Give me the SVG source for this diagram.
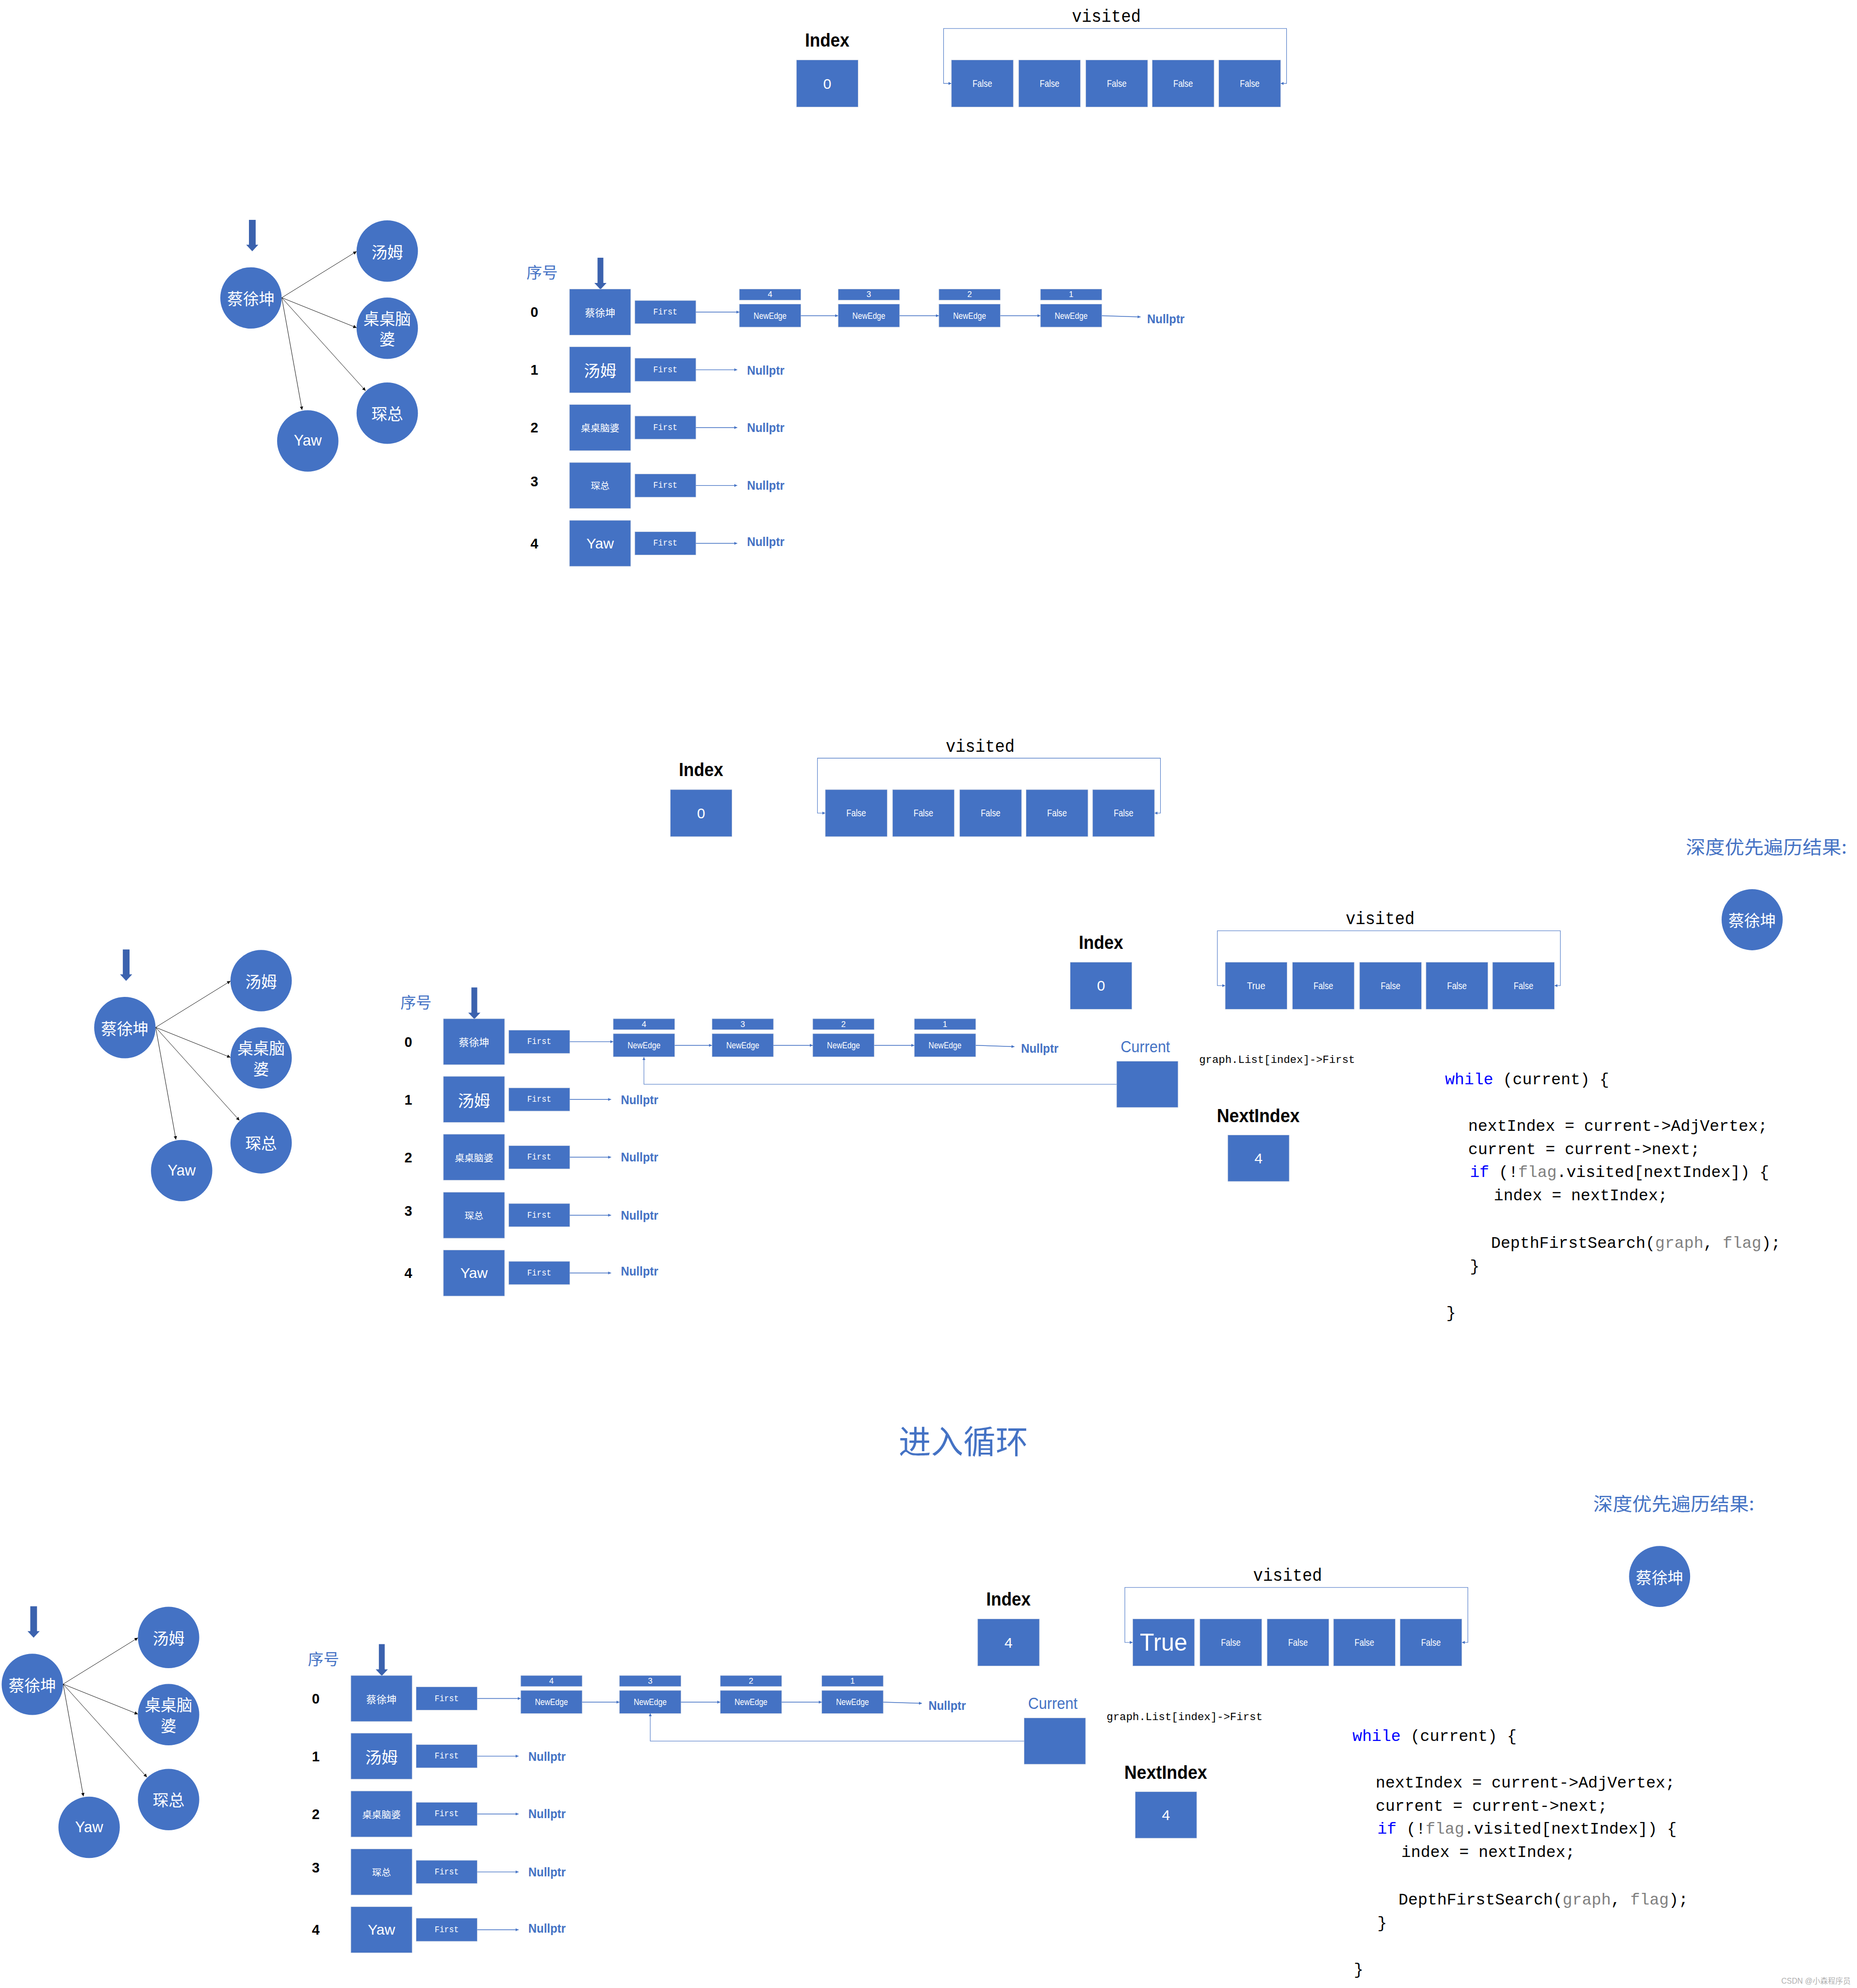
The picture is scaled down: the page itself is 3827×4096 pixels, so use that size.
<svg xmlns="http://www.w3.org/2000/svg" width="3827" height="4096" viewBox="0 0 3827 4096">
<style>
.box{fill:#4472C4;stroke:#d3d8e2;stroke-width:0.3}
.nd{fill:#4472C4}
.ba{fill:#3B62AE}
.w{fill:#fff;text-anchor:middle;dominant-baseline:central;font-family:"Liberation Sans","Noto Sans CJK SC",sans-serif}
.c{font-family:"Noto Sans CJK SC",sans-serif}
.m{font-family:"Liberation Mono","Noto Sans CJK SC",monospace}
.h{font-family:"Liberation Sans",sans-serif;font-weight:bold;fill:#000}
.bl{fill:#4472C4}
.np{font-family:"Liberation Sans",sans-serif;font-weight:bold;fill:#4472C4;font-size:10px}
.bc{stroke:#4472C4;stroke-width:0.55;fill:none}
.bk{stroke:#4472C4;stroke-width:0.4;fill:none}
.gc{stroke:#000;stroke-width:0.35;fill:none}
.code{font-family:"Liberation Mono",monospace;font-size:12.7px;fill:#000}
.kw{fill:#0000FF}
.gr{fill:#808080}
</style>
<defs>
<marker id="ab" viewBox="0 0 10 10" refX="10" refY="5" markerWidth="2.8" markerHeight="2.3" markerUnits="userSpaceOnUse" orient="auto-start-reverse"><path d="M0,0L10,5L0,10z" fill="#4472C4"/></marker>
<marker id="ak" viewBox="0 0 10 10" refX="10" refY="5" markerWidth="3.4" markerHeight="2.6" markerUnits="userSpaceOnUse" orient="auto"><path d="M0,0L10,5L0,10z" fill="#000"/></marker>
</defs>
<rect width="3827" height="4096" fill="#fff"/>
<g transform="scale(2.61226)">

<!-- ================= PANEL A ================= -->
<g id="a-top">
<text class="h" x="652.6" y="36.7" font-size="14.5" text-anchor="middle" textLength="35" lengthAdjust="spacingAndGlyphs">Index</text>
<g id="a-index"><rect class="box" x="628.3" y="47.3" width="48.7" height="37.1"/><text class="w" x="652.65" y="65.85" font-size="11.5">0</text></g>
<text class="m" x="872.8" y="17.3" font-size="14" text-anchor="middle" textLength="54.4" lengthAdjust="spacingAndGlyphs">visited</text>
<path class="bk" d="M1010.3 65.8H1015V22.5H744.4V65.8H750.6" marker-start="url(#ab)" marker-end="url(#ab)"/>
<g id="a-vis0"><rect class="box" x="750.6" y="47.3" width="48.8" height="37.1"/><text class="w" x="775" y="65.85" font-size="7.5" textLength="15.5" lengthAdjust="spacingAndGlyphs">False</text></g>
<g id="a-vis1"><rect class="box" x="803.6" y="47.3" width="48.8" height="37.1"/><text class="w" x="828" y="65.85" font-size="7.5" textLength="15.5" lengthAdjust="spacingAndGlyphs">False</text></g>
<g id="a-vis2"><rect class="box" x="856.6" y="47.3" width="48.8" height="37.1"/><text class="w" x="881" y="65.85" font-size="7.5" textLength="15.5" lengthAdjust="spacingAndGlyphs">False</text></g>
<g id="a-vis3"><rect class="box" x="909" y="47.3" width="48.8" height="37.1"/><text class="w" x="933.4" y="65.85" font-size="7.5" textLength="15.5" lengthAdjust="spacingAndGlyphs">False</text></g>
<g id="a-vis4"><rect class="box" x="961.5" y="47.3" width="48.8" height="37.1"/><text class="w" x="985.9" y="65.85" font-size="7.5" textLength="15.5" lengthAdjust="spacingAndGlyphs">False</text></g>
</g>

<g id="a-main">
<g id="a-graph">
<polygon class="ba" points="196.4,173.4 201.7,173.4 201.7,193 203.8,193 199,198.2 194.2,193 196.4,193"/>
<g id="a-graph-edges" class="gc">
<path d="M222.3 234.8L281.3 198.3" marker-end="url(#ak)"/>
<path d="M222.3 234.8L281.3 258.5" marker-end="url(#ak)"/>
<path d="M222.3 234.8L288.4 308.2" marker-end="url(#ak)"/>
<path d="M222.3 234.8L238.3 323.3" marker-end="url(#ak)"/>
</g>
<g id="a-n0"><circle class="nd" cx="198" cy="235" r="24.2"/><text class="w c" x="198" y="235" font-size="12.5">蔡徐坤</text></g>
<g id="a-n1"><circle class="nd" cx="305.5" cy="198" r="24.2"/><text class="w c" x="305.5" y="198" font-size="12.5">汤姆</text></g>
<g id="a-n2"><circle class="nd" cx="305.5" cy="258.9" r="24.2"/><text class="w c" font-size="12.5"><tspan x="305.5" y="250.2">桌桌脑</tspan><tspan x="305.5" y="266.5">婆</tspan></text></g>
<g id="a-n3"><circle class="nd" cx="305.5" cy="325.9" r="24.2"/><text class="w c" x="305.5" y="325.4" font-size="12.5">琛总</text></g>
<g id="a-n4"><circle class="nd" cx="242.8" cy="347.8" r="24.2"/><text class="w" x="242.8" y="347.5" font-size="11.8">Yaw</text></g>
</g>
<g id="a-adj">
<text class="bl c" x="415.4" y="219.5" font-size="12.3">序号</text>
<polygon class="ba" points="471.4,203.3 476,203.3 476,223.2 478.5,223.2 473.7,228.3 468.9,223.2 471.4,223.2"/>
<g class="h" font-size="11" text-anchor="middle">
<text x="421.6" y="250.1">0</text><text x="421.6" y="295.6">1</text><text x="421.6" y="341.2">2</text><text x="421.6" y="383.5">3</text><text x="421.6" y="432.5">4</text>
</g>
<g id="a-v0"><rect class="box" x="449.3" y="228" width="48.3" height="36.3"/><text class="w c" x="473.45" y="246.15" font-size="8">蔡徐坤</text></g>
<g id="a-v1"><rect class="box" x="449.3" y="273.5" width="48.3" height="36.3"/><text class="w c" x="473.45" y="291.65" font-size="12.8">汤姆</text></g>
<g id="a-v2"><rect class="box" x="449.3" y="319.1" width="48.3" height="36.3"/><text class="w c" x="473.45" y="337.25" font-size="7.6">桌桌脑婆</text></g>
<g id="a-v3"><rect class="box" x="449.3" y="364.8" width="48.3" height="36.3"/><text class="w c" x="473.45" y="382.95" font-size="7.4">琛总</text></g>
<g id="a-v4"><rect class="box" x="449.3" y="410.4" width="48.3" height="36.3"/><text class="w" x="473.45" y="428.55" font-size="11.5" textLength="21.6" lengthAdjust="spacingAndGlyphs">Yaw</text></g>
<g id="a-f0"><rect class="box" x="500.8" y="237" width="48.2" height="18.3"/><text class="w m" x="524.9" y="246.15" font-size="7" textLength="19" lengthAdjust="spacingAndGlyphs">First</text></g>
<g id="a-f1"><rect class="box" x="500.8" y="282.5" width="48.2" height="18.3"/><text class="w m" x="524.9" y="291.65" font-size="7" textLength="19" lengthAdjust="spacingAndGlyphs">First</text></g>
<g id="a-f2"><rect class="box" x="500.8" y="328.1" width="48.2" height="18.3"/><text class="w m" x="524.9" y="337.25" font-size="7" textLength="19" lengthAdjust="spacingAndGlyphs">First</text></g>
<g id="a-f3"><rect class="box" x="500.8" y="373.8" width="48.2" height="18.3"/><text class="w m" x="524.9" y="382.95" font-size="7" textLength="19" lengthAdjust="spacingAndGlyphs">First</text></g>
<g id="a-f4"><rect class="box" x="500.8" y="419.4" width="48.2" height="18.3"/><text class="w m" x="524.9" y="428.55" font-size="7" textLength="19" lengthAdjust="spacingAndGlyphs">First</text></g>
<g id="a-e4"><rect class="box" x="583.3" y="228" width="48.5" height="8.7"/><text class="w" x="607.55" y="232.35" font-size="6.5">4</text><rect class="box" x="583.3" y="239.8" width="48.5" height="18.2"/><text class="w" x="607.55" y="248.9" font-size="7.2" textLength="26" lengthAdjust="spacingAndGlyphs">NewEdge</text></g>
<g id="a-e3"><rect class="box" x="661.2" y="228" width="48.5" height="8.7"/><text class="w" x="685.45" y="232.35" font-size="6.5">3</text><rect class="box" x="661.2" y="239.8" width="48.5" height="18.2"/><text class="w" x="685.45" y="248.9" font-size="7.2" textLength="26" lengthAdjust="spacingAndGlyphs">NewEdge</text></g>
<g id="a-e2"><rect class="box" x="740.7" y="228" width="48.5" height="8.7"/><text class="w" x="764.95" y="232.35" font-size="6.5">2</text><rect class="box" x="740.7" y="239.8" width="48.5" height="18.2"/><text class="w" x="764.95" y="248.9" font-size="7.2" textLength="26" lengthAdjust="spacingAndGlyphs">NewEdge</text></g>
<g id="a-e1"><rect class="box" x="820.8" y="228" width="48.5" height="8.7"/><text class="w" x="845.05" y="232.35" font-size="6.5">1</text><rect class="box" x="820.8" y="239.8" width="48.5" height="18.2"/><text class="w" x="845.05" y="248.9" font-size="7.2" textLength="26" lengthAdjust="spacingAndGlyphs">NewEdge</text></g>
<g id="a-null">
<text class="np" x="905" y="255" textLength="29.5" lengthAdjust="spacingAndGlyphs">Nullptr</text>
<text class="np" x="589.3" y="295.4" textLength="29.5" lengthAdjust="spacingAndGlyphs">Nullptr</text>
<text class="np" x="589.3" y="340.7" textLength="29.5" lengthAdjust="spacingAndGlyphs">Nullptr</text>
<text class="np" x="589.3" y="386.4" textLength="29.5" lengthAdjust="spacingAndGlyphs">Nullptr</text>
<text class="np" x="589.3" y="430.7" textLength="29.5" lengthAdjust="spacingAndGlyphs">Nullptr</text>
</g>
<g id="a-adj-edges" class="bc">
<path d="M549 246.15H583.3" marker-end="url(#ab)"/>
<path d="M549 291.65H581.6" marker-end="url(#ab)"/>
<path d="M549 337.25H581.6" marker-end="url(#ab)"/>
<path d="M549 382.95H581.6" marker-end="url(#ab)"/>
<path d="M549 428.55H581.6" marker-end="url(#ab)"/>
<path d="M631.8 249H661.2" marker-end="url(#ab)"/>
<path d="M709.7 249H740.7" marker-end="url(#ab)"/>
<path d="M789.2 249H820.8" marker-end="url(#ab)"/>
<path d="M869.3 249L899.8 250" marker-end="url(#ab)"/>
</g>
</g>
</g>

<!-- ================= PANEL B ================= -->
<g id="b-top" transform="translate(-99.5,575.5)">
<text class="h" x="652.6" y="36.7" font-size="14.5" text-anchor="middle" textLength="35" lengthAdjust="spacingAndGlyphs">Index</text>
<g id="b-index"><rect class="box" x="628.3" y="47.3" width="48.7" height="37.1"/><text class="w" x="652.65" y="65.85" font-size="11.5">0</text></g>
<text class="m" x="872.8" y="17.3" font-size="14" text-anchor="middle" textLength="54.4" lengthAdjust="spacingAndGlyphs">visited</text>
<path class="bk" d="M1010.3 65.8H1015V22.5H744.4V65.8H750.6" marker-start="url(#ab)" marker-end="url(#ab)"/>
<g id="b-vis0"><rect class="box" x="750.6" y="47.3" width="48.8" height="37.1"/><text class="w" x="775" y="65.85" font-size="7.5" textLength="15.5" lengthAdjust="spacingAndGlyphs">False</text></g>
<g id="b-vis1"><rect class="box" x="803.6" y="47.3" width="48.8" height="37.1"/><text class="w" x="828" y="65.85" font-size="7.5" textLength="15.5" lengthAdjust="spacingAndGlyphs">False</text></g>
<g id="b-vis2"><rect class="box" x="856.6" y="47.3" width="48.8" height="37.1"/><text class="w" x="881" y="65.85" font-size="7.5" textLength="15.5" lengthAdjust="spacingAndGlyphs">False</text></g>
<g id="b-vis3"><rect class="box" x="909" y="47.3" width="48.8" height="37.1"/><text class="w" x="933.4" y="65.85" font-size="7.5" textLength="15.5" lengthAdjust="spacingAndGlyphs">False</text></g>
<g id="b-vis4"><rect class="box" x="961.5" y="47.3" width="48.8" height="37.1"/><text class="w" x="985.9" y="65.85" font-size="7.5" textLength="15.5" lengthAdjust="spacingAndGlyphs">False</text></g>
</g>

<g id="b-main" transform="translate(-99.5,575.5)">
<g id="b-graph">
<polygon class="ba" points="196.4,173.4 201.7,173.4 201.7,193 203.8,193 199,198.2 194.2,193 196.4,193"/>
<g id="b-graph-edges" class="gc">
<path d="M222.3 234.8L281.3 198.3" marker-end="url(#ak)"/>
<path d="M222.3 234.8L281.3 258.5" marker-end="url(#ak)"/>
<path d="M222.3 234.8L288.4 308.2" marker-end="url(#ak)"/>
<path d="M222.3 234.8L238.3 323.3" marker-end="url(#ak)"/>
</g>
<g id="b-n0"><circle class="nd" cx="198" cy="235" r="24.2"/><text class="w c" x="198" y="235" font-size="12.5">蔡徐坤</text></g>
<g id="b-n1"><circle class="nd" cx="305.5" cy="198" r="24.2"/><text class="w c" x="305.5" y="198" font-size="12.5">汤姆</text></g>
<g id="b-n2"><circle class="nd" cx="305.5" cy="258.9" r="24.2"/><text class="w c" font-size="12.5"><tspan x="305.5" y="250.2">桌桌脑</tspan><tspan x="305.5" y="266.5">婆</tspan></text></g>
<g id="b-n3"><circle class="nd" cx="305.5" cy="325.9" r="24.2"/><text class="w c" x="305.5" y="325.4" font-size="12.5">琛总</text></g>
<g id="b-n4"><circle class="nd" cx="242.8" cy="347.8" r="24.2"/><text class="w" x="242.8" y="347.5" font-size="11.8">Yaw</text></g>
</g>
<g id="b-adj">
<text class="bl c" x="415.4" y="219.5" font-size="12.3">序号</text>
<polygon class="ba" points="471.4,203.3 476,203.3 476,223.2 478.5,223.2 473.7,228.3 468.9,223.2 471.4,223.2"/>
<g class="h" font-size="11" text-anchor="middle">
<text x="421.6" y="250.1">0</text><text x="421.6" y="295.6">1</text><text x="421.6" y="341.2">2</text><text x="421.6" y="383.5">3</text><text x="421.6" y="432.5">4</text>
</g>
<g id="b-v0"><rect class="box" x="449.3" y="228" width="48.3" height="36.3"/><text class="w c" x="473.45" y="246.15" font-size="8">蔡徐坤</text></g>
<g id="b-v1"><rect class="box" x="449.3" y="273.5" width="48.3" height="36.3"/><text class="w c" x="473.45" y="291.65" font-size="12.8">汤姆</text></g>
<g id="b-v2"><rect class="box" x="449.3" y="319.1" width="48.3" height="36.3"/><text class="w c" x="473.45" y="337.25" font-size="7.6">桌桌脑婆</text></g>
<g id="b-v3"><rect class="box" x="449.3" y="364.8" width="48.3" height="36.3"/><text class="w c" x="473.45" y="382.95" font-size="7.4">琛总</text></g>
<g id="b-v4"><rect class="box" x="449.3" y="410.4" width="48.3" height="36.3"/><text class="w" x="473.45" y="428.55" font-size="11.5" textLength="21.6" lengthAdjust="spacingAndGlyphs">Yaw</text></g>
<g id="b-f0"><rect class="box" x="500.8" y="237" width="48.2" height="18.3"/><text class="w m" x="524.9" y="246.15" font-size="7" textLength="19" lengthAdjust="spacingAndGlyphs">First</text></g>
<g id="b-f1"><rect class="box" x="500.8" y="282.5" width="48.2" height="18.3"/><text class="w m" x="524.9" y="291.65" font-size="7" textLength="19" lengthAdjust="spacingAndGlyphs">First</text></g>
<g id="b-f2"><rect class="box" x="500.8" y="328.1" width="48.2" height="18.3"/><text class="w m" x="524.9" y="337.25" font-size="7" textLength="19" lengthAdjust="spacingAndGlyphs">First</text></g>
<g id="b-f3"><rect class="box" x="500.8" y="373.8" width="48.2" height="18.3"/><text class="w m" x="524.9" y="382.95" font-size="7" textLength="19" lengthAdjust="spacingAndGlyphs">First</text></g>
<g id="b-f4"><rect class="box" x="500.8" y="419.4" width="48.2" height="18.3"/><text class="w m" x="524.9" y="428.55" font-size="7" textLength="19" lengthAdjust="spacingAndGlyphs">First</text></g>
<g id="b-e4"><rect class="box" x="583.3" y="228" width="48.5" height="8.7"/><text class="w" x="607.55" y="232.35" font-size="6.5">4</text><rect class="box" x="583.3" y="239.8" width="48.5" height="18.2"/><text class="w" x="607.55" y="248.9" font-size="7.2" textLength="26" lengthAdjust="spacingAndGlyphs">NewEdge</text></g>
<g id="b-e3"><rect class="box" x="661.2" y="228" width="48.5" height="8.7"/><text class="w" x="685.45" y="232.35" font-size="6.5">3</text><rect class="box" x="661.2" y="239.8" width="48.5" height="18.2"/><text class="w" x="685.45" y="248.9" font-size="7.2" textLength="26" lengthAdjust="spacingAndGlyphs">NewEdge</text></g>
<g id="b-e2"><rect class="box" x="740.7" y="228" width="48.5" height="8.7"/><text class="w" x="764.95" y="232.35" font-size="6.5">2</text><rect class="box" x="740.7" y="239.8" width="48.5" height="18.2"/><text class="w" x="764.95" y="248.9" font-size="7.2" textLength="26" lengthAdjust="spacingAndGlyphs">NewEdge</text></g>
<g id="b-e1"><rect class="box" x="820.8" y="228" width="48.5" height="8.7"/><text class="w" x="845.05" y="232.35" font-size="6.5">1</text><rect class="box" x="820.8" y="239.8" width="48.5" height="18.2"/><text class="w" x="845.05" y="248.9" font-size="7.2" textLength="26" lengthAdjust="spacingAndGlyphs">NewEdge</text></g>
<g id="b-null">
<text class="np" x="905" y="255" textLength="29.5" lengthAdjust="spacingAndGlyphs">Nullptr</text>
<text class="np" x="589.3" y="295.4" textLength="29.5" lengthAdjust="spacingAndGlyphs">Nullptr</text>
<text class="np" x="589.3" y="340.7" textLength="29.5" lengthAdjust="spacingAndGlyphs">Nullptr</text>
<text class="np" x="589.3" y="386.4" textLength="29.5" lengthAdjust="spacingAndGlyphs">Nullptr</text>
<text class="np" x="589.3" y="430.7" textLength="29.5" lengthAdjust="spacingAndGlyphs">Nullptr</text>
</g>
<g id="b-adj-edges" class="bc">
<path d="M549 246.15H583.3" marker-end="url(#ab)"/>
<path d="M549 291.65H581.6" marker-end="url(#ab)"/>
<path d="M549 337.25H581.6" marker-end="url(#ab)"/>
<path d="M549 382.95H581.6" marker-end="url(#ab)"/>
<path d="M549 428.55H581.6" marker-end="url(#ab)"/>
<path d="M631.8 249H661.2" marker-end="url(#ab)"/>
<path d="M709.7 249H740.7" marker-end="url(#ab)"/>
<path d="M789.2 249H820.8" marker-end="url(#ab)"/>
<path d="M869.3 249L899.8 250" marker-end="url(#ab)"/>
</g>
</g>
</g>

<!-- ================= PANEL C (state, top of loop) ================= -->
<g id="c-top" transform="translate(216,711.6)">
<text class="h" x="652.6" y="36.7" font-size="14.5" text-anchor="middle" textLength="35" lengthAdjust="spacingAndGlyphs">Index</text>
<g id="c-index"><rect class="box" x="628.3" y="47.3" width="48.7" height="37.1"/><text class="w" x="652.65" y="65.85" font-size="11.5">0</text></g>
<text class="m" x="872.8" y="17.3" font-size="14" text-anchor="middle" textLength="54.4" lengthAdjust="spacingAndGlyphs">visited</text>
<path class="bk" d="M1010.3 65.8H1015V22.5H744.4V65.8H750.6" marker-start="url(#ab)" marker-end="url(#ab)"/>
<g id="c-vis0"><rect class="box" x="750.6" y="47.3" width="48.8" height="37.1"/><text class="w" x="775" y="65.85" font-size="7.5" textLength="14.5" lengthAdjust="spacingAndGlyphs">True</text></g>
<g id="c-vis1"><rect class="box" x="803.6" y="47.3" width="48.8" height="37.1"/><text class="w" x="828" y="65.85" font-size="7.5" textLength="15.5" lengthAdjust="spacingAndGlyphs">False</text></g>
<g id="c-vis2"><rect class="box" x="856.6" y="47.3" width="48.8" height="37.1"/><text class="w" x="881" y="65.85" font-size="7.5" textLength="15.5" lengthAdjust="spacingAndGlyphs">False</text></g>
<g id="c-vis3"><rect class="box" x="909" y="47.3" width="48.8" height="37.1"/><text class="w" x="933.4" y="65.85" font-size="7.5" textLength="15.5" lengthAdjust="spacingAndGlyphs">False</text></g>
<g id="c-vis4"><rect class="box" x="961.5" y="47.3" width="48.8" height="37.1"/><text class="w" x="985.9" y="65.85" font-size="7.5" textLength="15.5" lengthAdjust="spacingAndGlyphs">False</text></g>
</g>

<g id="c-extra">
<g id="c-current"><text class="bl" x="903.6" y="829.9" font-size="12.5" text-anchor="middle" font-family="Liberation Sans, sans-serif" textLength="39" lengthAdjust="spacingAndGlyphs">Current</text><rect class="box" x="880.9" y="837" width="48.5" height="36.5"/></g>
<text class="m" x="946" y="838.5" font-size="8.5" textLength="123" lengthAdjust="spacingAndGlyphs">graph.List[index]-&gt;First</text>
<text class="h" x="960" y="885" font-size="14.5" textLength="65.3" lengthAdjust="spacingAndGlyphs">NextIndex</text>
<g id="c-nextindex"><rect class="box" x="968.6" y="895.2" width="48.5" height="36.6"/><text class="w" x="992.85" y="913.5" font-size="11.5">4</text></g>
<g id="c-code" class="code">
<text x="1140" y="855.3"><tspan class="kw">while</tspan> (current) {</text>
<text x="1158.3" y="891.8">nextIndex = current-&gt;AdjVertex;</text>
<text x="1158.3" y="910.3">current = current-&gt;next;</text>
<text x="1159.6" y="928.3"><tspan class="kw">if</tspan> (!<tspan class="gr">flag</tspan>.visited[nextIndex]) {</text>
<text x="1178.5" y="946.7">index = nextIndex;</text>
<text x="1176.3" y="984.1">DepthFirstSearch(<tspan class="gr">graph</tspan>, <tspan class="gr">flag</tspan>);</text>
<text x="1159.6" y="1002.5">}</text>
<text x="1141" y="1039.4">}</text>
</g>
<text class="bl c" x="1330" y="673.5" font-size="14.5" textLength="127" lengthAdjust="spacingAndGlyphs">深度优先遍历结果:</text>
<g id="c-result"><circle class="nd" cx="1382.3" cy="725.4" r="24.1"/><text class="w c" x="1382.3" y="725.4" font-size="12.5">蔡徐坤</text></g>
</g>

<!-- ================= title ================= -->
<text class="bl c" x="760" y="1146.5" font-size="25.5" text-anchor="middle">进入循环</text>

<!-- ================= PANEL D ================= -->
<g id="d-top" transform="translate(143,1229.6)">
<text class="h" x="652.6" y="36.7" font-size="14.5" text-anchor="middle" textLength="35" lengthAdjust="spacingAndGlyphs">Index</text>
<g id="d-index"><rect class="box" x="628.3" y="47.3" width="48.7" height="37.1"/><text class="w" x="652.65" y="65.85" font-size="11.5">4</text></g>
<text class="m" x="872.8" y="17.3" font-size="14" text-anchor="middle" textLength="54.4" lengthAdjust="spacingAndGlyphs">visited</text>
<path class="bk" d="M1010.3 65.8H1015V22.5H744.4V65.8H750.6" marker-start="url(#ab)" marker-end="url(#ab)"/>
<g id="d-vis0"><rect class="box" x="750.6" y="47.3" width="48.8" height="37.1"/><text class="w" x="775" y="65.85" font-size="19" textLength="37.5" lengthAdjust="spacingAndGlyphs">True</text></g>
<g id="d-vis1"><rect class="box" x="803.6" y="47.3" width="48.8" height="37.1"/><text class="w" x="828" y="65.85" font-size="7.5" textLength="15.5" lengthAdjust="spacingAndGlyphs">False</text></g>
<g id="d-vis2"><rect class="box" x="856.6" y="47.3" width="48.8" height="37.1"/><text class="w" x="881" y="65.85" font-size="7.5" textLength="15.5" lengthAdjust="spacingAndGlyphs">False</text></g>
<g id="d-vis3"><rect class="box" x="909" y="47.3" width="48.8" height="37.1"/><text class="w" x="933.4" y="65.85" font-size="7.5" textLength="15.5" lengthAdjust="spacingAndGlyphs">False</text></g>
<g id="d-vis4"><rect class="box" x="961.5" y="47.3" width="48.8" height="37.1"/><text class="w" x="985.9" y="65.85" font-size="7.5" textLength="15.5" lengthAdjust="spacingAndGlyphs">False</text></g>
</g>

<g id="d-main" transform="translate(-172.5,1093.5)">
<g id="d-graph">
<polygon class="ba" points="196.4,173.4 201.7,173.4 201.7,193 203.8,193 199,198.2 194.2,193 196.4,193"/>
<g id="d-graph-edges" class="gc">
<path d="M222.3 234.8L281.3 198.3" marker-end="url(#ak)"/>
<path d="M222.3 234.8L281.3 258.5" marker-end="url(#ak)"/>
<path d="M222.3 234.8L288.4 308.2" marker-end="url(#ak)"/>
<path d="M222.3 234.8L238.3 323.3" marker-end="url(#ak)"/>
</g>
<g id="d-n0"><circle class="nd" cx="198" cy="235" r="24.2"/><text class="w c" x="198" y="235" font-size="12.5">蔡徐坤</text></g>
<g id="d-n1"><circle class="nd" cx="305.5" cy="198" r="24.2"/><text class="w c" x="305.5" y="198" font-size="12.5">汤姆</text></g>
<g id="d-n2"><circle class="nd" cx="305.5" cy="258.9" r="24.2"/><text class="w c" font-size="12.5"><tspan x="305.5" y="250.2">桌桌脑</tspan><tspan x="305.5" y="266.5">婆</tspan></text></g>
<g id="d-n3"><circle class="nd" cx="305.5" cy="325.9" r="24.2"/><text class="w c" x="305.5" y="325.4" font-size="12.5">琛总</text></g>
<g id="d-n4"><circle class="nd" cx="242.8" cy="347.8" r="24.2"/><text class="w" x="242.8" y="347.5" font-size="11.8">Yaw</text></g>
</g>
<g id="d-adj">
<text class="bl c" x="415.4" y="219.5" font-size="12.3">序号</text>
<polygon class="ba" points="471.4,203.3 476,203.3 476,223.2 478.5,223.2 473.7,228.3 468.9,223.2 471.4,223.2"/>
<g class="h" font-size="11" text-anchor="middle">
<text x="421.6" y="250.1">0</text><text x="421.6" y="295.6">1</text><text x="421.6" y="341.2">2</text><text x="421.6" y="383.5">3</text><text x="421.6" y="432.5">4</text>
</g>
<g id="d-v0"><rect class="box" x="449.3" y="228" width="48.3" height="36.3"/><text class="w c" x="473.45" y="246.15" font-size="8">蔡徐坤</text></g>
<g id="d-v1"><rect class="box" x="449.3" y="273.5" width="48.3" height="36.3"/><text class="w c" x="473.45" y="291.65" font-size="12.8">汤姆</text></g>
<g id="d-v2"><rect class="box" x="449.3" y="319.1" width="48.3" height="36.3"/><text class="w c" x="473.45" y="337.25" font-size="7.6">桌桌脑婆</text></g>
<g id="d-v3"><rect class="box" x="449.3" y="364.8" width="48.3" height="36.3"/><text class="w c" x="473.45" y="382.95" font-size="7.4">琛总</text></g>
<g id="d-v4"><rect class="box" x="449.3" y="410.4" width="48.3" height="36.3"/><text class="w" x="473.45" y="428.55" font-size="11.5" textLength="21.6" lengthAdjust="spacingAndGlyphs">Yaw</text></g>
<g id="d-f0"><rect class="box" x="500.8" y="237" width="48.2" height="18.3"/><text class="w m" x="524.9" y="246.15" font-size="7" textLength="19" lengthAdjust="spacingAndGlyphs">First</text></g>
<g id="d-f1"><rect class="box" x="500.8" y="282.5" width="48.2" height="18.3"/><text class="w m" x="524.9" y="291.65" font-size="7" textLength="19" lengthAdjust="spacingAndGlyphs">First</text></g>
<g id="d-f2"><rect class="box" x="500.8" y="328.1" width="48.2" height="18.3"/><text class="w m" x="524.9" y="337.25" font-size="7" textLength="19" lengthAdjust="spacingAndGlyphs">First</text></g>
<g id="d-f3"><rect class="box" x="500.8" y="373.8" width="48.2" height="18.3"/><text class="w m" x="524.9" y="382.95" font-size="7" textLength="19" lengthAdjust="spacingAndGlyphs">First</text></g>
<g id="d-f4"><rect class="box" x="500.8" y="419.4" width="48.2" height="18.3"/><text class="w m" x="524.9" y="428.55" font-size="7" textLength="19" lengthAdjust="spacingAndGlyphs">First</text></g>
<g id="d-e4"><rect class="box" x="583.3" y="228" width="48.5" height="8.7"/><text class="w" x="607.55" y="232.35" font-size="6.5">4</text><rect class="box" x="583.3" y="239.8" width="48.5" height="18.2"/><text class="w" x="607.55" y="248.9" font-size="7.2" textLength="26" lengthAdjust="spacingAndGlyphs">NewEdge</text></g>
<g id="d-e3"><rect class="box" x="661.2" y="228" width="48.5" height="8.7"/><text class="w" x="685.45" y="232.35" font-size="6.5">3</text><rect class="box" x="661.2" y="239.8" width="48.5" height="18.2"/><text class="w" x="685.45" y="248.9" font-size="7.2" textLength="26" lengthAdjust="spacingAndGlyphs">NewEdge</text></g>
<g id="d-e2"><rect class="box" x="740.7" y="228" width="48.5" height="8.7"/><text class="w" x="764.95" y="232.35" font-size="6.5">2</text><rect class="box" x="740.7" y="239.8" width="48.5" height="18.2"/><text class="w" x="764.95" y="248.9" font-size="7.2" textLength="26" lengthAdjust="spacingAndGlyphs">NewEdge</text></g>
<g id="d-e1"><rect class="box" x="820.8" y="228" width="48.5" height="8.7"/><text class="w" x="845.05" y="232.35" font-size="6.5">1</text><rect class="box" x="820.8" y="239.8" width="48.5" height="18.2"/><text class="w" x="845.05" y="248.9" font-size="7.2" textLength="26" lengthAdjust="spacingAndGlyphs">NewEdge</text></g>
<g id="d-null">
<text class="np" x="905" y="255" textLength="29.5" lengthAdjust="spacingAndGlyphs">Nullptr</text>
<text class="np" x="589.3" y="295.4" textLength="29.5" lengthAdjust="spacingAndGlyphs">Nullptr</text>
<text class="np" x="589.3" y="340.7" textLength="29.5" lengthAdjust="spacingAndGlyphs">Nullptr</text>
<text class="np" x="589.3" y="386.4" textLength="29.5" lengthAdjust="spacingAndGlyphs">Nullptr</text>
<text class="np" x="589.3" y="430.7" textLength="29.5" lengthAdjust="spacingAndGlyphs">Nullptr</text>
</g>
<g id="d-adj-edges" class="bc">
<path d="M549 246.15H583.3" marker-end="url(#ab)"/>
<path d="M549 291.65H581.6" marker-end="url(#ab)"/>
<path d="M549 337.25H581.6" marker-end="url(#ab)"/>
<path d="M549 382.95H581.6" marker-end="url(#ab)"/>
<path d="M549 428.55H581.6" marker-end="url(#ab)"/>
<path d="M631.8 249H661.2" marker-end="url(#ab)"/>
<path d="M709.7 249H740.7" marker-end="url(#ab)"/>
<path d="M789.2 249H820.8" marker-end="url(#ab)"/>
<path d="M869.3 249L899.8 250" marker-end="url(#ab)"/>
</g>
</g>
</g>

<g id="d-extra" transform="translate(-73,518)">
<g id="d-current"><text class="bl" x="903.6" y="829.9" font-size="12.5" text-anchor="middle" font-family="Liberation Sans, sans-serif" textLength="39" lengthAdjust="spacingAndGlyphs">Current</text><rect class="box" x="880.9" y="837" width="48.5" height="36.5"/></g>
<text class="m" x="946" y="838.5" font-size="8.5" textLength="123" lengthAdjust="spacingAndGlyphs">graph.List[index]-&gt;First</text>
<text class="h" x="960" y="885" font-size="14.5" textLength="65.3" lengthAdjust="spacingAndGlyphs">NextIndex</text>
<g id="d-nextindex"><rect class="box" x="968.6" y="895.2" width="48.5" height="36.6"/><text class="w" x="992.85" y="913.5" font-size="11.5">4</text></g>
<g id="d-code" class="code">
<text x="1140" y="855.3"><tspan class="kw">while</tspan> (current) {</text>
<text x="1158.3" y="891.8">nextIndex = current-&gt;AdjVertex;</text>
<text x="1158.3" y="910.3">current = current-&gt;next;</text>
<text x="1159.6" y="928.3"><tspan class="kw">if</tspan> (!<tspan class="gr">flag</tspan>.visited[nextIndex]) {</text>
<text x="1178.5" y="946.7">index = nextIndex;</text>
<text x="1176.3" y="984.1">DepthFirstSearch(<tspan class="gr">graph</tspan>, <tspan class="gr">flag</tspan>);</text>
<text x="1159.6" y="1002.5">}</text>
<text x="1141" y="1039.4">}</text>
</g>
<text class="bl c" x="1330" y="673.5" font-size="14.5" textLength="127" lengthAdjust="spacingAndGlyphs">深度优先遍历结果:</text>
<g id="d-result"><circle class="nd" cx="1382.3" cy="725.4" r="24.1"/><text class="w c" x="1382.3" y="725.4" font-size="12.5">蔡徐坤</text></g>
</g>

<!-- current pointer connectors -->
<g id="current-connectors" class="bk">
<path d="M880.9 855.2H508V833.8" marker-end="url(#ab)"/>
<path d="M807.9 1373.2H513V1351.3" marker-end="url(#ab)"/>
</g>

<text x="1405.3" y="1564.6" font-size="6" fill="#b0b0b0" font-family="Liberation Sans, Noto Sans CJK SC, sans-serif">CSDN @小森程序员</text>
</g>
</svg>
